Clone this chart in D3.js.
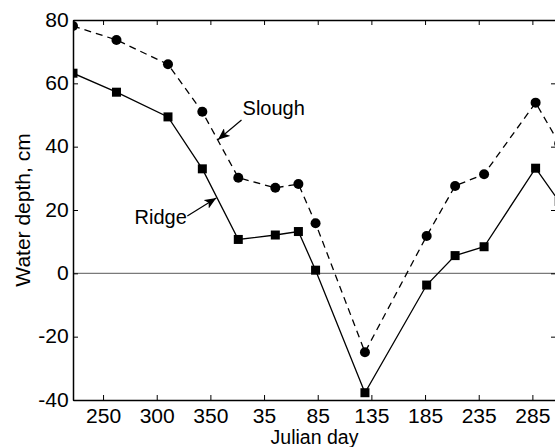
<!DOCTYPE html>
<html>
<head>
	<meta charset="utf-8">
	<title>Water depth</title>
	<script src="https://d3js.org/d3.v7.min.js"></script>
	<style>
		body { margin: 0; background: #fff; }
		svg text { font-family: "Liberation Sans", Arial, sans-serif; fill: #000; }
	</style>
</head>
<body>
	<div class="chart"></div>

	<script type="text/javascript">
		// days continue past 365 into the next year (400 = day 35)
		const days = [222, 262.5, 310.5, 342.5, 376, 410.5, 432, 448, 494, 551.5, 578, 605, 653, 675]
		const slough = [78.1, 73.7, 66.0, 51.0, 30.2, 27.0, 28.2, 15.8, -24.9, 11.8, 27.6, 31.3, 53.9, 41]
		const ridge = [63.2, 57.2, 49.4, 33.0, 10.7, 12.1, 13.2, 1.0, -37.7, -3.7, 5.6, 8.4, 33.2, 22.7]

		const xTicks = [250, 300, 350, 400, 450, 500, 550, 600, 650]
		const yTicks = [-40, -20, 0, 20, 40, 60, 80]

		// annotations: label, text anchor point, arrow tail, arrow tip (day, cm)
		const notes = [
			{ label: 'Slough', anchor: 'start', text: [380, 50], from: [379, 48.4], to: [357, 42.2] },
			{ label: 'Ridge', anchor: 'end', text: [328, 15.5], from: [328.5, 18.1], to: [355.5, 23.8] }
		]

		const width = 555
		const height = 447
		const margin = { top: 20, right: -1, bottom: 47, left: 73 }
		const fontSize = 19.5

		const svg = d3.select('.chart').append('svg')
			.attr('width', width)
			.attr('height', height)

		const x = d3.scaleLinear([222, 672], [margin.left, width - margin.right])
		const y = d3.scaleLinear([-40, 80], [height - margin.bottom, margin.top])

		const dayLabel = d => d > 365 ? d - 365 : d

		svg.append('defs').append('clipPath').attr('id', 'plot')
			.append('rect')
			.attr('x', x.range()[0]).attr('y', y.range()[1])
			.attr('width', x.range()[1] - x.range()[0])
			.attr('height', y.range()[0] - y.range()[1])

		// zero line
		svg.append('line')
			.attr('x1', x.range()[0]).attr('x2', x.range()[1])
			.attr('y1', y(0)).attr('y2', y(0))
			.attr('stroke', '#7a7a7a').attr('stroke-width', 1.2)

		// axes, ticks pointing inward on all four sides
		const styleAxis = g => {
			g.select('.domain').attr('stroke', '#000').attr('stroke-width', 1.5)
			g.selectAll('.tick line').attr('stroke', '#000').attr('stroke-width', 1)
			g.selectAll('text').attr('font-size', fontSize).attr('fill', '#000')
				.attr('transform', 'scale(1.08,1)')
			g.attr('font-family', null)
		}

		svg.append('g')
			.attr('transform', `translate(0,${y.range()[0]})`)
			.call(d3.axisBottom(x).tickValues(xTicks).tickFormat(dayLabel)
				.tickSizeInner(-5).tickSizeOuter(0).tickPadding(9))
			.call(styleAxis)

		svg.append('g')
			.attr('transform', `translate(0,${y.range()[1]})`)
			.call(d3.axisTop(x).tickValues(xTicks).tickFormat('')
				.tickSizeInner(-5).tickSizeOuter(0))
			.call(styleAxis)

		svg.append('g')
			.attr('transform', `translate(${x.range()[0]},0)`)
			.call(d3.axisLeft(y).tickValues(yTicks).tickFormat(d => String(d))
				.tickSizeInner(-5).tickSizeOuter(0).tickPadding(4))
			.call(styleAxis)

		svg.append('g')
			.attr('transform', `translate(${x.range()[1]},0)`)
			.call(d3.axisRight(y).tickValues(yTicks).tickFormat('')
				.tickSizeInner(-5).tickSizeOuter(0))
			.call(styleAxis)

		// axis titles
		svg.append('text')
			.attr('x', (x.range()[0] + x.range()[1]) / 2)
			.attr('y', height - 3)
			.attr('text-anchor', 'middle')
			.attr('font-size', fontSize)
			.text('Julian day')

		svg.append('text')
			.attr('transform', `translate(30,${(y.range()[0] + y.range()[1]) / 2}) rotate(-90)`)
			.attr('text-anchor', 'middle')
			.attr('font-size', 21)
			.text('Water depth, cm')

		const line = d3.line().x(d => x(d[0])).y(d => y(d[1]))
		const plot = svg.append('g').attr('clip-path', 'url(#plot)')

		const sloughPts = days.map((d, i) => [d, slough[i]])
		const ridgePts = days.map((d, i) => [d, ridge[i]])

		plot.append('path')
			.attr('d', line(sloughPts))
			.attr('fill', 'none').attr('stroke', '#000')
			.attr('stroke-width', 1.3).attr('stroke-dasharray', '7,5')

		plot.append('path')
			.attr('d', line(ridgePts))
			.attr('fill', 'none').attr('stroke', '#000')
			.attr('stroke-width', 1.3)

		plot.selectAll('circle')
			.data(sloughPts)
			.join('circle')
			.attr('cx', d => x(d[0]))
			.attr('cy', d => y(d[1]))
			.attr('r', 5)
			.attr('fill', '#000')

		plot.selectAll('rect.sq')
			.data(ridgePts)
			.join('rect')
			.attr('class', 'sq')
			.attr('x', d => x(d[0]) - 4.5)
			.attr('y', d => y(d[1]) - 4.5)
			.attr('width', 9)
			.attr('height', 9)
			.attr('fill', '#000')

		// annotation arrows
		svg.append('defs').append('marker')
			.attr('id', 'arrow')
			.attr('viewBox', '0 0 12 10')
			.attr('refX', 12).attr('refY', 5)
			.attr('markerWidth', 12).attr('markerHeight', 10)
			.attr('markerUnits', 'userSpaceOnUse')
			.attr('orient', 'auto')
			.append('path')
			.attr('d', 'M0,0 L12,5 L0,10 L3,5 Z')
			.attr('fill', '#000')

		notes.forEach(n => {
			svg.append('text')
				.attr('x', x(n.text[0]))
				.attr('y', y(n.text[1]))
				.attr('text-anchor', n.anchor)
				.attr('font-size', 20)
				.text(n.label)
			svg.append('line')
				.attr('x1', x(n.from[0])).attr('y1', y(n.from[1]))
				.attr('x2', x(n.to[0])).attr('y2', y(n.to[1]))
				.attr('stroke', '#000').attr('stroke-width', 1.2)
				.attr('marker-end', 'url(#arrow)')
		})
	</script>
</body>
</html>
